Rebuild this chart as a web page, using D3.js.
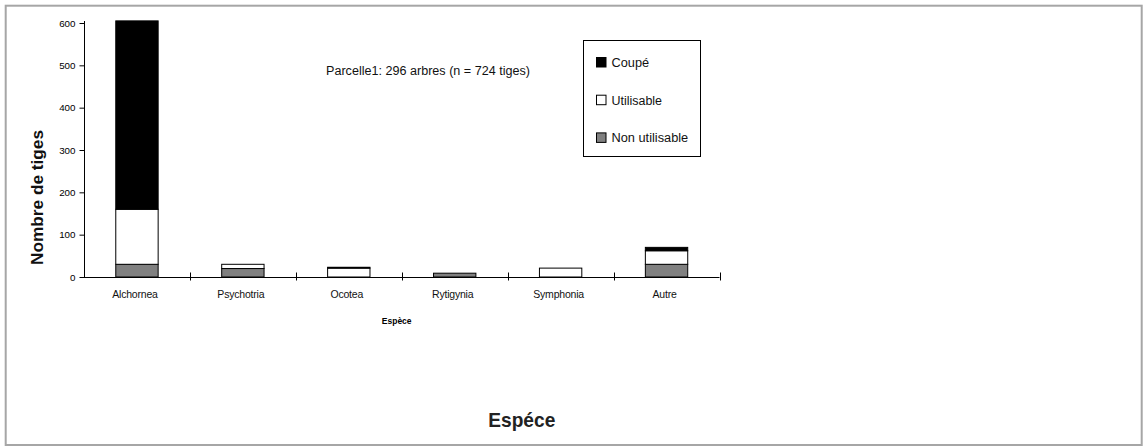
<!DOCTYPE html>
<html><head><meta charset="utf-8">
<script src="https://cdn.jsdelivr.net/npm/d3@7"></script>
<style>body{margin:0;background:#fff}svg{display:block;font-family:"Liberation Sans",Arial,sans-serif}</style>
</head><body><svg id="c" width="1143" height="447"></svg>
<script>
const categories = ["Alchornea","Psychotria","Ocotea","Rytigynia","Symphonia","Autre"];
const nonUtilisable = [30, 20, 0, 9, 0, 30];
const utilisable = [130, 10, 21, 0, 21, 32];
const coupe = [445, 0, 2, 0, 0, 8];
const seriesNames = ["Non utilisable","Utilisable","Coupé"];
const legendOrder = ["Coupé","Utilisable","Non utilisable"];
const yTicks = [0,100,200,300,400,500,600];
const colors = {"Non utilisable":"#808080","Utilisable":"#ffffff","Coupé":"#000000"};

const svg = d3.select("#c");
function fit(sel, w){ sel.attr("textLength", w).attr("lengthAdjust","spacingAndGlyphs"); return sel; }

// outer border
svg.append("rect").attr("x",5.7).attr("y",5.7).attr("width",1136).attr("height",439.3)
  .attr("fill","#fff").attr("stroke","#a6a6a6").attr("stroke-width",2);

const x = d3.scaleBand().domain(categories).range([84, 719.5]).padding(0);
const y = d3.scaleLinear().domain([0,600]).range([277, 23]);

const table = categories.map((c,i)=>({cat:c, "Non utilisable":nonUtilisable[i], "Utilisable":utilisable[i], "Coupé":coupe[i]}));
const stack = d3.stack().keys(seriesNames)(table);
const bw = x.bandwidth()*0.4;

stack.forEach(s=>{
  svg.append("g").selectAll("rect").data(s.filter(d=>d[1]-d[0]>0)).join("rect")
    .attr("x", d=>x(d.data.cat)+x.bandwidth()/2-bw/2)
    .attr("y", d=>y(d[1]))
    .attr("width", bw)
    .attr("height", d=>y(d[0])-y(d[1]))
    .attr("fill", colors[s.key]).attr("stroke","#000").attr("stroke-width",1);
});

// y axis
const ya = svg.append("g").attr("transform","translate(84.5,0)")
  .call(d3.axisLeft(y).tickValues(yTicks).tickSize(5).tickPadding(4));
ya.select(".domain").attr("d","M0,21V277.5");
ya.selectAll("text").attr("font-size","9.8px").attr("fill","#000").attr("font-family","Liberation Sans, Arial");

// x axis
const xa = svg.append("g").attr("transform","translate(0,277.5)");
xa.append("line").attr("x1",84).attr("x2",719.5).attr("y1",0).attr("y2",0).attr("stroke","#000");
const bounds = categories.map(c=>x(c)+x.bandwidth());
xa.selectAll("line.t").data(bounds).join("line").attr("class","t")
  .attr("x1",d=>Math.round(d)+0.5).attr("x2",d=>Math.round(d)+0.5).attr("y1",-5).attr("y2",3).attr("stroke","#000");
xa.selectAll("text").data(categories).join("text")
  .attr("x",d=>x(d)+x.bandwidth()/2-2).attr("y",20).attr("text-anchor","middle")
  .attr("font-size","10.5px").attr("fill","#111").attr("letter-spacing","-0.2px").text(d=>d);

// axis titles
svg.append("text").attr("x",396.7).attr("y",323.5).attr("text-anchor","middle")
  .attr("font-size","8.5px").attr("font-weight","bold").text("Espèce");
fit(svg.append("text").attr("transform","translate(42.5,197.5) rotate(-90)").attr("text-anchor","middle")
  .attr("font-size","16px").attr("font-weight","bold").attr("fill","#111").text("Nombre de tiges"),135);
fit(svg.append("text").attr("x",488.3).attr("y",427.3)
  .attr("font-size","20.5px").attr("font-weight","bold").attr("fill","#222").text("Espéce"),67);

// title
fit(svg.append("text").attr("x",326).attr("y",75).attr("font-size","12.5px").attr("fill","#111")
  .text("Parcelle1: 296 arbres (n = 724 tiges)"),204);

// legend
svg.append("rect").attr("x",583.5).attr("y",40.5).attr("width",117).attr("height",116)
  .attr("fill","#fff").attr("stroke","#000");
const lw = {"Coupé":37.6,"Utilisable":50.5,"Non utilisable":76.7};
const lg = svg.append("g").selectAll("g").data(legendOrder).join("g")
  .attr("transform",(d,i)=>`translate(596.5,${57.5+i*37.7})`);
lg.append("rect").attr("width",9.5).attr("height",9.5).attr("fill",d=>colors[d]).attr("stroke","#000");
lg.each(function(d){
  fit(d3.select(this).append("text").attr("x",15).attr("y",9.5).attr("font-size","12.5px").attr("fill","#111").text(d), lw[d]);
});
</script></body></html>
